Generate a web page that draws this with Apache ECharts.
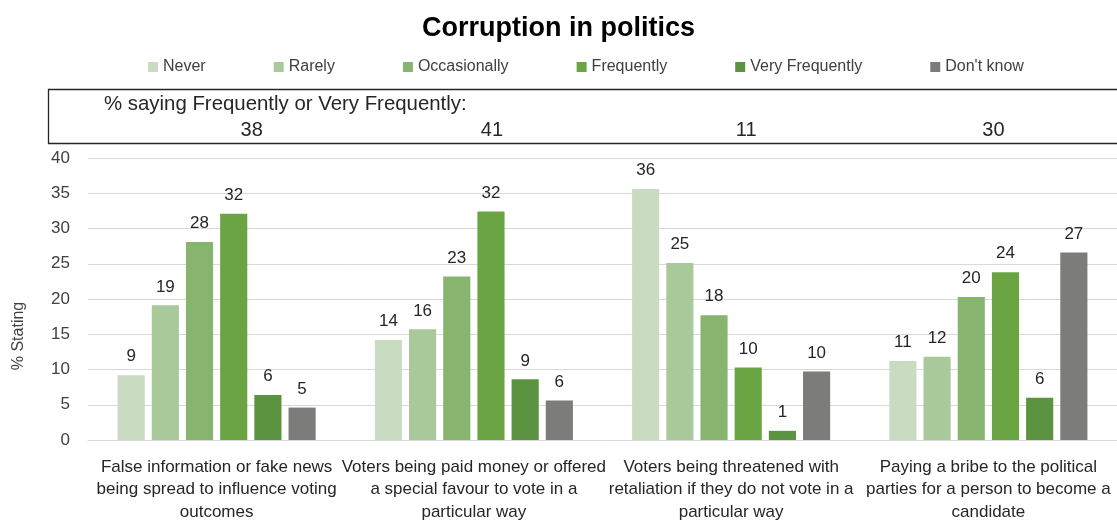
<!DOCTYPE html>
<html>
<head>
<meta charset="utf-8">
<script src="https://cdn.jsdelivr.net/npm/echarts@6/dist/echarts.min.js"></script>
<style>
  html, body { margin: 0; padding: 0; background: #ffffff; }
  #chart { width: 1117px; height: 525px; }
</style>
</head>
<body>
<div id="chart"></div>
<script>
// Survey categories (x axis), with manual line breaks
const categories = [
  'False information or fake news\nbeing spread to influence voting\noutcomes',
  'Voters being paid money or offered\na special favour to vote in a\nparticular way',
  'Voters being threatened with\nretaliation if they do not vote in a\nparticular way',
  'Paying a bribe to the political\nparties for a person to become a\ncandidate'
];

// Response shares (% stating), one array per answer
const never          = [9.2, 14.2, 35.6, 11.2];
const rarely         = [19.1, 15.7, 25.1, 11.8];
const occasionally   = [28.1, 23.2, 17.7, 20.3];
const frequently     = [32.1, 32.4, 10.3, 23.8];
const veryFrequently = [6.4, 8.6, 1.3, 6.0];
const dontKnow       = [4.6, 5.6, 9.7, 26.6];

// Combined "Frequently or Very Frequently" figure shown in the header box
const frequentTotals = [38, 41, 11, 30];

const seriesNames = ['Never', 'Rarely', 'Occasionally', 'Frequently', 'Very Frequently', "Don't know"];
const seriesData  = [never, rarely, occasionally, frequently, veryFrequently, dontKnow];
const seriesColors = ['#c9dbc1', '#aac99b', '#87b56f', '#6ba543', '#5c9340', '#7c7c7a'];

// Y axis scale
const yMin = 0, yMax = 40, yStep = 5;

const sans = '"Liberation Sans", Arial, Helvetica, sans-serif';

const chart = echarts.init(document.getElementById('chart'), null, { renderer: 'canvas' });

const option = {
  backgroundColor: '#ffffff',
  animation: false,
  title: {
    text: 'Corruption in politics',
    left: 'center',
    top: 10,
    textStyle: { fontFamily: sans, fontWeight: 'bold', fontSize: 27, color: '#000000' }
  },
  legend: {
    top: 54,
    left: 143,
    itemWidth: 10,
    itemHeight: 10,
    itemGap: 68,
    icon: 'rect',
    textStyle: { fontFamily: sans, fontSize: 16, color: '#404040' },
    data: seriesNames
  },
  grid: { left: 88, right: 0, top: 158, bottom: 85, containLabel: false, outerBoundsMode: 'none' },
  xAxis: {
    type: 'category',
    data: categories,
    axisTick: { show: false },
    axisLine: { lineStyle: { color: '#d9d9d9', width: 1 } },
    axisLabel: {
      interval: 0,
      margin: 16,
      fontFamily: sans,
      fontSize: 17,
      lineHeight: 22.5,
      color: '#262626',
      align: 'center'
    }
  },
  yAxis: {
    type: 'value',
    min: yMin,
    max: yMax,
    interval: yStep,
    axisLine: { show: false },
    axisTick: { show: false },
    splitLine: { lineStyle: { color: '#d9d9d9', width: 1 } },
    axisLabel: { margin: 18, fontFamily: sans, fontSize: 17, color: '#404040' }
  },
  series: seriesNames.map((name, i) => ({
    name: name,
    type: 'bar',
    data: seriesData[i],
    barGap: '26%',
    barCategoryGap: '23%',
    itemStyle: { color: seriesColors[i] },
    label: {
      show: true,
      position: 'top',
      distance: 10,
      fontFamily: sans,
      fontSize: 17,
      color: '#262626',
      formatter: p => String(Math.round(p.value))
    }
  }))
};

chart.setOption(option);

// Header box with the combined figures, each tied to its category
const headerOffsets = [35, 18, 15, 5];
const headerTexts = frequentTotals.map((v, i) => {
  const x = chart.convertToPixel({ xAxisIndex: 0 }, i) + headerOffsets[i];
  return {
    type: 'text',
    x: x,
    y: 130,
    style: {
      text: String(v),
      fontFamily: sans,
      fontSize: 20,
      fill: '#262626',
      align: 'center',
      verticalAlign: 'middle'
    }
  };
});

chart.setOption({
  graphic: [
    {
      type: 'rect',
      shape: { x: 48.5, y: 89.5, width: 1080, height: 54 },
      style: { fill: 'none', stroke: '#262626', lineWidth: 1.3 }
    },
    {
      type: 'text',
      x: 104,
      y: 104,
      style: {
        text: '% saying Frequently or Very Frequently:',
        fontFamily: sans,
        fontSize: 20.4,
        fill: '#262626',
        align: 'left',
        verticalAlign: 'middle'
      }
    },
    ...headerTexts,
    {
      type: 'text',
      x: 19,
      y: 336,
      rotation: Math.PI / 2,
      style: {
        text: '% Stating',
        fontFamily: sans,
        fontSize: 16,
        fill: '#404040',
        align: 'center',
        verticalAlign: 'middle'
      }
    }
  ]
});
</script>
</body>
</html>
